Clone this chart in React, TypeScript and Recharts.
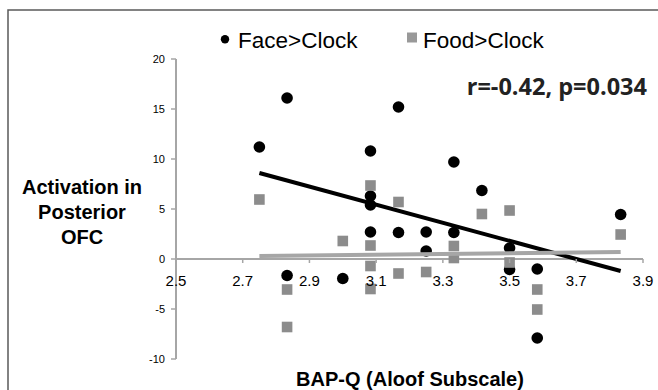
import React from 'react';
import { ScatterChart, Scatter, XAxis, YAxis, ReferenceLine } from 'recharts';

// BAP-Q aloof score vs activation in posterior OFC
const faceX = [2.75, 2.833, 2.833, 3.0, 3.083, 3.083, 3.083, 3.083, 3.167, 3.167, 3.25, 3.25, 3.333, 3.333, 3.417, 3.5, 3.5, 3.583, 3.583, 3.833];
const faceY = [11.2, 16.1, -1.65, -1.95, 10.8, 6.3, 5.4, 2.7, 15.2, 2.65, 2.7, 0.8, 9.7, 2.65, 6.85, 1.1, -1.05, -1.0, -7.9, 4.45];

const foodX = [2.75, 2.833, 2.833, 3.0, 3.083, 3.083, 3.083, 3.083, 3.167, 3.167, 3.25, 3.333, 3.333, 3.417, 3.5, 3.5, 3.583, 3.583, 3.833];
const foodY = [5.95, -3.05, -6.8, 1.8, 7.35, 1.35, -0.7, -3.0, 5.7, -1.45, -1.3, 1.3, 0.1, 4.5, 4.85, -0.35, -3.05, -5.05, 2.45];

// fitted lines (end points)
const faceFitX = [2.75, 3.833];
const faceFitY = [8.6, -1.2];
const foodFitX = [2.75, 3.833];
const foodFitY = [0.3, 0.7];

const xTicks = [2.5, 2.7, 2.9, 3.1, 3.3, 3.5, 3.7, 3.9];
const yTicks = [-10, -5, 0, 5, 10, 15, 20];

const W = 658;
const H = 390;
const TOP = 59;
const PLOT_H = 300;
const Y_MIN = -10;
const Y_MAX = 20;
const ZERO_Y = TOP + (PLOT_H * Y_MAX) / (Y_MAX - Y_MIN);

const FONT = '"Liberation Sans", Arial, sans-serif';
const AXIS_GREY = '#a6a6a6';

const zip = (xs: number[], ys: number[]) => xs.map((x, i) => ({ x, y: ys[i] }));

const faceData = zip(faceX, faceY);
const foodData = zip(foodX, foodY);
const faceFit = zip(faceFitX, faceFitY);
const foodFit = zip(foodFitX, foodFitY);

const Dot = (props: any) => <circle cx={props.cx} cy={props.cy} r={5.8} fill="#000" />;
const Square = (props: any) => (
  <rect x={props.cx - 5.3} y={props.cy - 5.3} width={10.6} height={10.6} fill="#8c8c8c" />
);
const NoShape = () => <g />;

const XTick = (props: any) => {
  const { x, payload } = props;
  return (
    <g>
      <line x1={x} x2={x} y1={ZERO_Y} y2={ZERO_Y + 4} stroke={AXIS_GREY} strokeWidth={1.5} />
      <text x={x} y={286} textAnchor="middle" fontSize={15} fill="#000" fontFamily={FONT}>
        {Number(payload.value).toFixed(1)}
      </text>
    </g>
  );
};

export default function App() {
  return (
    <div style={{ position: 'absolute', left: 0, top: 0, width: W, height: H, background: '#fff' }}>
      <ScatterChart
        width={W}
        height={H}
        margin={{ top: TOP, right: 15, bottom: 1, left: 116 }}
        style={{ fontFamily: FONT }}
      >
        <XAxis
          type="number"
          dataKey="x"
          domain={[2.5, 3.9]}
          ticks={xTicks}
          axisLine={false}
          tickLine={false}
          tick={<XTick />}
          height={30}
          allowDataOverflow
        />
        <YAxis
          type="number"
          dataKey="y"
          domain={[Y_MIN, Y_MAX]}
          ticks={yTicks}
          width={60}
          tickSize={5}
          tickMargin={6}
          axisLine={{ stroke: AXIS_GREY, strokeWidth: 2 }}
          tickLine={{ stroke: AXIS_GREY, strokeWidth: 1.5 }}
          tick={{ fontSize: 11, fill: '#000', fontFamily: FONT }}
          allowDataOverflow
        />
        <ReferenceLine y={0} stroke={AXIS_GREY} strokeWidth={2} />
        <Scatter name="Face>Clock" data={faceData} shape={Dot} isAnimationActive={false} />
        <Scatter
          data={faceFit}
          line={{ stroke: '#000', strokeWidth: 4 }}
          shape={NoShape}
          isAnimationActive={false}
          legendType="none"
        />
        <Scatter name="Food>Clock" data={foodData} shape={Square} isAnimationActive={false} />
        <Scatter
          data={foodFit}
          line={{ stroke: AXIS_GREY, strokeWidth: 4 }}
          shape={NoShape}
          isAnimationActive={false}
          legendType="none"
        />
      </ScatterChart>

      <svg
        width={W}
        height={H}
        style={{ position: 'absolute', left: 0, top: 0, pointerEvents: 'none' }}
      >
        <polyline points={`8,${H} 8,10 ${W},10`} fill="none" stroke="#5a5a5a" strokeWidth={1.5} />

        {/* legend */}
        <circle cx={225} cy={39.3} r={4.2} fill="#000" />
        <text x={238} y={47.7} fontSize={22.5} fontFamily={FONT} fill="#000">Face&gt;Clock</text>
        <rect x={407} y={32.5} width={10} height={10} fill="#999" />
        <text x={423} y={47.7} fontSize={22.5} fontFamily={FONT} fill="#000">Food&gt;Clock</text>

        <text fontSize={20} fontWeight="bold" fontFamily={FONT} textAnchor="middle" fill="#000">
          <tspan x={82} y={194}>Activation in</tspan>
          <tspan x={82} y={219}>Posterior</tspan>
          <tspan x={82} y={243.5}>OFC</tspan>
        </text>
        <text x={410} y={386} fontSize={20} fontWeight="bold" fontFamily={FONT} textAnchor="middle" fill="#000">
          BAP-Q (Aloof Subscale)
        </text>
        <text
          x={647}
          y={95}
          fontSize={23.5}
          fontWeight="bold"
          fontFamily='"Open Sans", sans-serif'
          textAnchor="end"
          fill="#222"
        >
          r=-0.42, p=0.034
        </text>
      </svg>
    </div>
  );
}
